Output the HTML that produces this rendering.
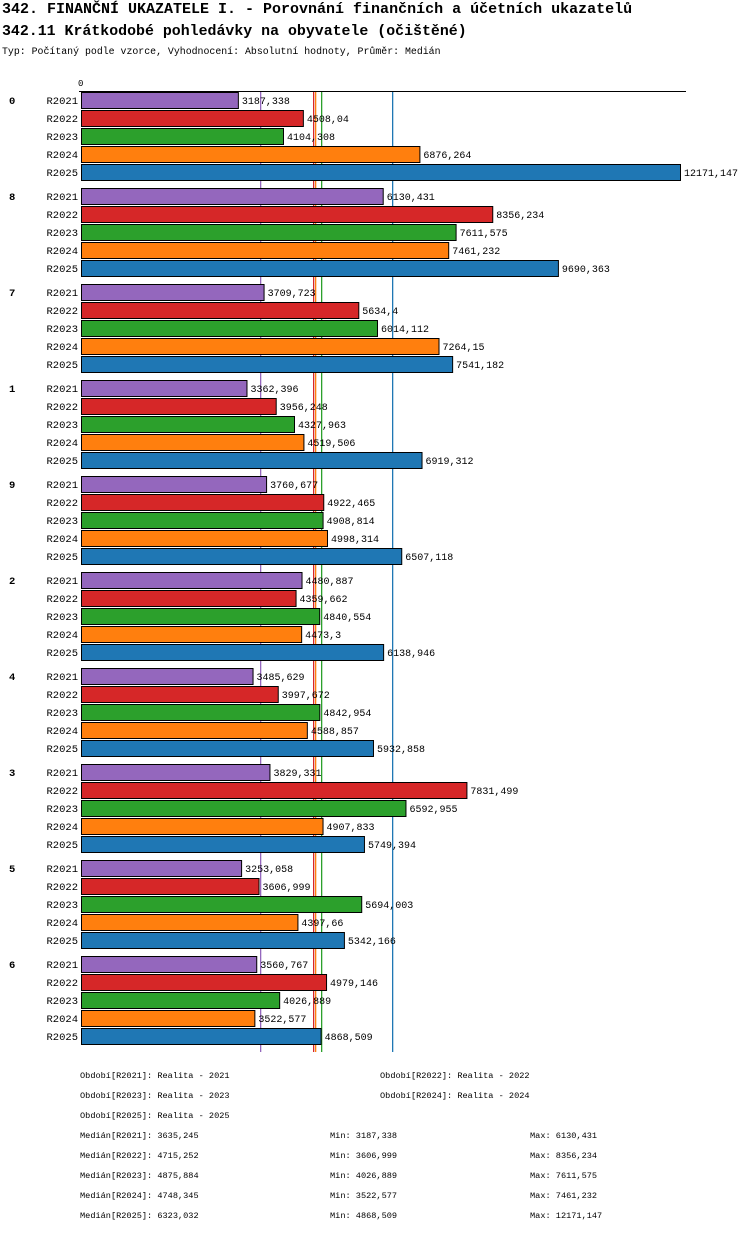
<!DOCTYPE html>
<html><head><meta charset="utf-8"><style>
body{margin:0;background:#fff;width:750px;height:1232px;overflow:hidden;font-family:"Liberation Mono",monospace}
svg text{font-family:"Liberation Mono",monospace}
</style></head><body>
<svg id="c" width="750" height="1232" xmlns="http://www.w3.org/2000/svg">
<text x="2" y="13" font-size="15" font-weight="bold">342. FINANČNÍ UKAZATELE I. - Porovnání finančních a účetních ukazatelů</text>
<text x="2" y="35" font-size="14.9" font-weight="bold">342.11 Krátkodobé pohledávky na obyvatele (očištěné)</text>
<text x="2" y="54" font-size="9.9">Typ: Počítaný podle vzorce, Vyhodnocení: Absolutní hodnoty, Průměr: Medián</text>
<text x="78" y="86" font-size="9">0</text>
<line x1="79" y1="91.5" x2="686" y2="91.5" stroke="#000"/>
<g id="meds"></g><g id="bars"></g><g id="foot"></g>
</svg>
<script>
const groups=["0","8","7","1","9","2","4","3","5","6"];
const series=["R2021","R2022","R2023","R2024","R2025"];
const colors=["#9467bd","#d62728","#2ca02c","#ff7f0e","#1f77b4"];
const values=[
[3187.338,4508.04,4104.308,6876.264,12171.147],
[6130.431,8356.234,7611.575,7461.232,9690.363],
[3709.723,5634.4,6014.112,7264.15,7541.182],
[3362.396,3956.248,4327.963,4519.506,6919.312],
[3760.677,4922.465,4908.814,4998.314,6507.118],
[4480.887,4359.662,4840.554,4473.3,6138.946],
[3485.629,3997.672,4842.954,4588.857,5932.858],
[3829.331,7831.499,6592.955,4907.833,5749.394],
[3253.058,3606.999,5694.003,4397.66,5342.166],
[3560.767,4979.146,4026.889,3522.577,4868.509]];
const medians=[3635.245,4715.252,4875.884,4748.345,6323.032];
const mins=[3187.338,3606.999,4026.889,3522.577,4868.509];
const maxs=[6130.431,8356.234,7611.575,7461.232,12171.147];
const labels=["Realita - 2021","Realita - 2022","Realita - 2023","Realita - 2024","Realita - 2025"];
const NS="http://www.w3.org/2000/svg";
const x=v=>81+v*599/12171.147;
function mk(p,t,a,txt){const e=document.createElementNS(NS,t);for(const k in a)e.setAttribute(k,a[k]);if(txt!=null)e.textContent=txt;p.appendChild(e);return e;}
const fmt=v=>String(v).replace('.',',');
const M=document.getElementById('meds'),B=document.getElementById('bars'),F=document.getElementById('foot');
medians.forEach((m,i)=>{const e=mk(M,'rect',{x:Math.round(x(m)),y:92,width:1.3,height:960,fill:colors[i]});

});
groups.forEach((g,gi)=>{const gy=92+gi*96;
const gl=mk(B,'text',{x:9,y:gy+12,'font-size':10.5,'font-weight':'bold'},g);


series.forEach((s,si)=>{const y=gy+si*18;const v=values[gi][si];
const sl=mk(B,'text',{x:78,y:y+12,'font-size':10.5,'text-anchor':'end'},s);


const r=mk(B,'rect',{x:81.5,y:y+.5,width:x(v)-81,height:16,fill:colors[si],stroke:'#000','stroke-width':1});


const vl=mk(B,'text',{x:x(v)+4,y:y+12,'font-size':10},fmt(v));

});});
const leg=[[80,1078],[380,1078],[80,1098],[380,1098],[80,1118]];
series.forEach((s,i)=>{const t=mk(F,'text',{x:leg[i][0],y:leg[i][1],'font-size':8.6},'Období['+s+']: '+labels[i]);


const y=1138+i*20;
const a=mk(F,'text',{x:80,y:y,'font-size':8.6},'Medián['+s+']: '+fmt(medians[i]));


const b=mk(F,'text',{x:330,y:y,'font-size':8.6},'Min: '+fmt(mins[i]));


const c=mk(F,'text',{x:530,y:y,'font-size':8.6},'Max: '+fmt(maxs[i]));

});
</script>
</body></html>
